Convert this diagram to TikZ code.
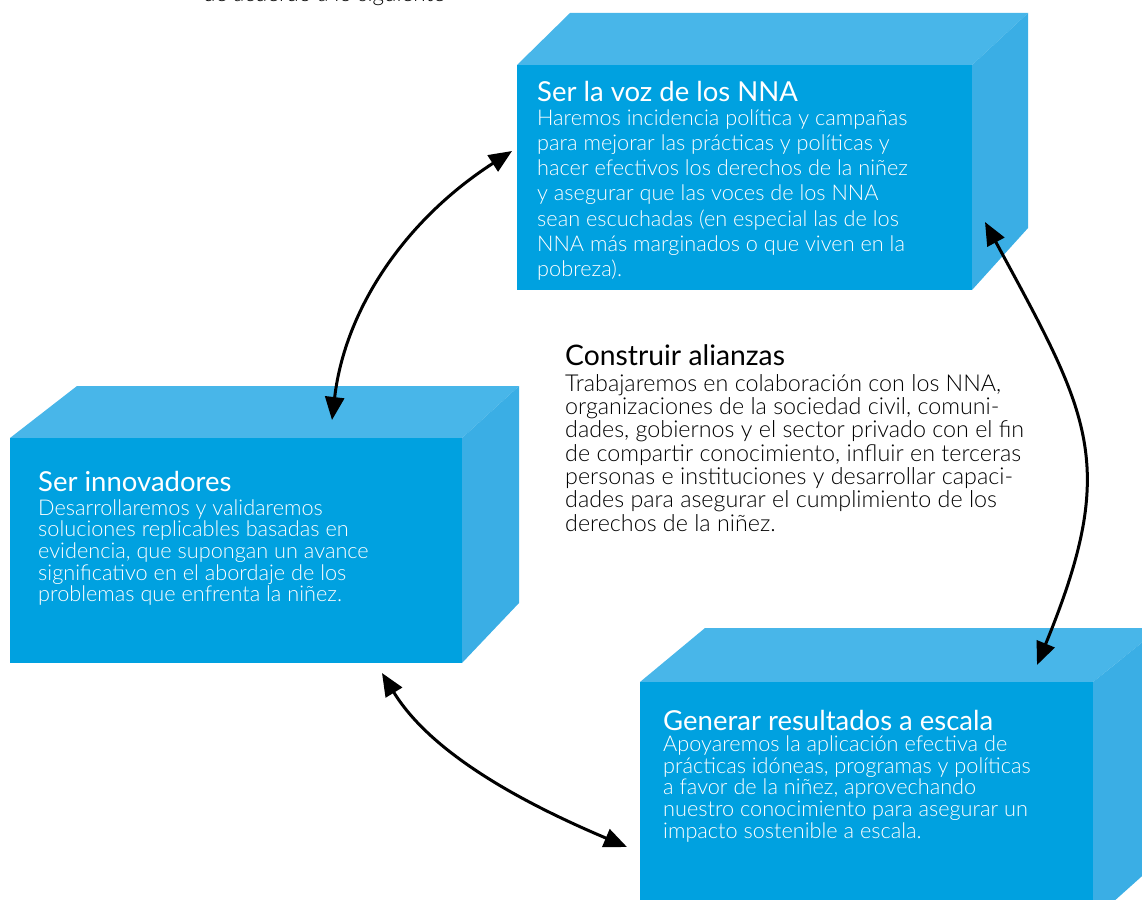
\documentclass[tikz,border=0pt]{standalone}
\usepackage{fontspec}
\setmainfont{Lato}
\newfontfamily\lightfont{Lato Light}
\usetikzlibrary{arrows.meta}
\definecolor{front}{RGB}{0,161,224}
\definecolor{topface}{RGB}{72,182,233}
\definecolor{sideface}{RGB}{58,174,229}
\newcommand{\firstline}{\rule{0pt}{22pt}}
\tikzset{
  x=1pt, y=-1pt,
  txt/.style={anchor=base west, inner sep=0pt, align=left},
  ttl/.style={txt, font=\fontsize{27.5}{30}\selectfont},
  bigttl/.style={txt, font=\fontsize{28.3}{30}\selectfont},
  bodytxt/.style={anchor=north west, inner sep=0pt, align=left, font=\lightfont\fontsize{21.7}{#1}\selectfont},
  bodytxt/.default=22,
  midtxt/.style={anchor=north west, inner sep=0pt, align=left, font=\lightfont\fontsize{23.3}{23.3}\selectfont},
  link/.style={line width=3pt, black, {Triangle[length=23pt,width=19pt]}-{Triangle[length=23pt,width=19pt]}}
}
\begin{document}
\begin{tikzpicture}
\useasboundingbox (0,0) rectangle (1142,899);
% cut text at top
\node[txt, font=\lightfont\fontsize{22.5}{23}\selectfont] (cut) at (203,1.5) {de acuerdo a lo siguiente};
% Box 1
\fill[topface] (517,65) -- (570,13) -- (1028,13) -- (972,65) -- cycle;
\fill[sideface] (972,65) -- (1028,13) -- (1028,228) -- (972,290) -- cycle;
\fill[front] (517,65) rectangle (972,290);
\node[ttl, white] (t1) at (537,101) {Ser la voz de los NNA};
\node[bodytxt=25.2, white] (b1) at (537,103) {\firstline Haremos incidencia política y campañas\\para mejorar las prácticas y políticas y\\hacer efectivos los derechos de la niñez\\y asegurar que las voces de los NNA\\sean escuchadas (en especial las de los\\NNA más marginados o que viven en la\\pobreza).};
% Box 2
\fill[topface] (10,438) -- (77,386) -- (519,386) -- (462,438) -- cycle;
\fill[sideface] (462,438) -- (519,386) -- (519,603) -- (462,663) -- cycle;
\fill[front] (10,438) rectangle (462,663);
\node[ttl, white] (t2) at (38,491) {Ser innovadores};
\node[bodytxt=21.6, white] (b2) at (38,493) {\firstline Desarrollaremos y validaremos\\soluciones replicables basadas en\\evidencia, que supongan un avance\\significativo en el abordaje de los\\problemas que enfrenta la niñez.};
% Box 3
\fill[topface] (640,682) -- (705,628) -- (1160,628) -- (1093,682) -- cycle;
\fill[sideface] (1093,682) -- (1160,628) -- (1160,860) -- (1093,920) -- cycle;
\fill[front] (640,682) rectangle (1093,920);
\node[ttl, white] (t3) at (663,730) {Generar resultados a escala};
\node[bodytxt=21.8, white] (b3) at (663,729) {\firstline Apoyaremos la aplicación efectiva de\\prácticas idóneas, programas y políticas\\a favor de la niñez, aprovechando\\nuestro conocimiento para asegurar un\\impacto sostenible a escala.};
% Middle text
\node[bigttl, black] (t4) at (565,365) {Construir alianzas};
\node[midtxt, black] (b4) at (565,369) {\firstline Trabajaremos en colaboración con los NNA,\\organizaciones de la sociedad civil, comuni-\\dades, gobiernos y el sector privado con el fin\\de compartir conocimiento, influir en terceras\\personas e instituciones y desarrollar capaci-\\dades para asegurar el cumplimiento de los\\derechos de la niñez.};
% arrows
\coordinate (a1s) at (332,420);
\coordinate (a1e) at (512,151);
\coordinate (a2s) at (985,222);
\coordinate (a2e) at (1037,665);
\coordinate (a3s) at (382,673);
\coordinate (a3e) at (627,847);
\draw[link] (a1s) .. controls (345,309) and (405,220) .. (a1e);
\draw[link] (a2s) .. controls (1090,416) and (1120,463) .. (a2e);
\draw[link] (a3s) .. controls (434,758) and (535,808) .. (a3e);
\end{tikzpicture}
\end{document}
